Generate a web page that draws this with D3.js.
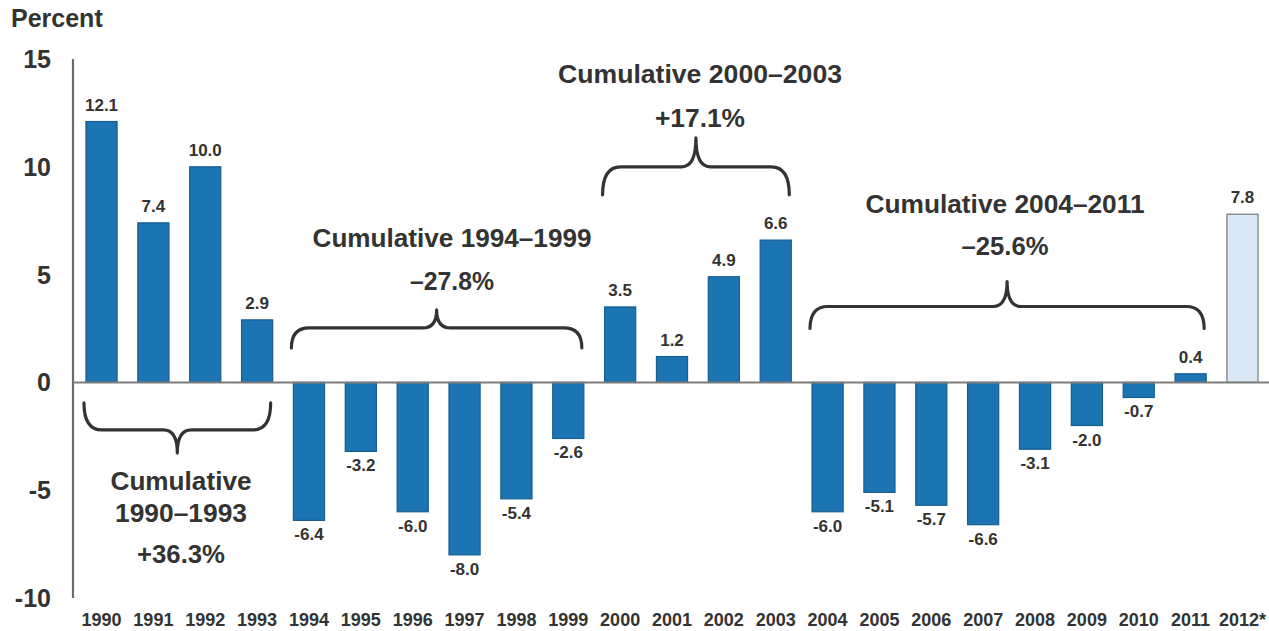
<!DOCTYPE html>
<html>
<head>
<meta charset="utf-8">
<script src="https://cdn.jsdelivr.net/npm/d3@7"></script>
<style>
  html, body { margin: 0; padding: 0; background: #fff; }
  svg { display: block; }
  text { font-family: "Liberation Sans", Arial, sans-serif; font-weight: bold; fill: #333; }
</style>
</head>
<body>
<script>
// ---- data ----
const years = ["1990","1991","1992","1993","1994","1995","1996","1997","1998","1999",
               "2000","2001","2002","2003","2004","2005","2006","2007","2008","2009",
               "2010","2011","2012*"];
const values = [12.1, 7.4, 10.0, 2.9, -6.4, -3.2, -6.0, -8.0, -5.4, -2.6,
                3.5, 1.2, 4.9, 6.6, -6.0, -5.1, -5.7, -6.6, -3.1, -2.0,
                -0.7, 0.4, 7.8];
const estimateYears = ["2012*"];
const yTicks = [15, 10, 5, 0, -5, -10];
const yTickLabels = ["15", "10", "5", "0", "-5", "-10"];
const groupStart = ["1990", "1994", "2000", "2004"];
const groupEnd = ["1993", "1999", "2003", "2011"];
const groupLines = [
  ["Cumulative", "1990\u20131993", "+36.3%"],
  ["Cumulative 1994\u20131999", "\u201327.8%"],
  ["Cumulative 2000\u20132003", "+17.1%"],
  ["Cumulative 2004\u20132011", "\u201325.6%"]
];
const axisTitle = "Percent";

// ---- layout ----
const W = 1269, H = 631;
const svg = d3.select("body").append("svg").attr("width", W).attr("height", H);

const x = d3.scaleBand().domain(years).range([75.6, 1268.4]).paddingInner(0.4).paddingOuter(0.2);
const y = d3.scaleLinear().domain([-10, 15]).range([598, 59]);

// brace placement (annotation styling)
const braceStyle = [
  {dir: 1,  end: -0.95, flat: 27, tip: 50, tx: 181, lineY: [490, 522, 563], lens: [141, 132, 88]},
  {dir: -1, end: 1.6,  flat: 20, tip: 38, tx: 452, lineY: [247, 290], lens: [279, 84]},
  {dir: -1, end: 8.7,  flat: 28, tip: 57, tx: 700, lineY: [83, 127], lens: [284, 90]},
  {dir: -1, end: 2.5,  flat: 22, tip: 47, tx: 1005, lineY: [213, 255], lens: [279, 87]}
];

// y axis line
svg.append("line")
  .attr("x1", 73).attr("x2", 73)
  .attr("y1", y(15)).attr("y2", y(-10))
  .attr("stroke", "#6b6b6b").attr("stroke-width", 2.2);

// y tick labels
svg.selectAll(".ytick").data(yTicks).enter().append("text")
  .attr("x", 51).attr("y", d => y(d))
  .attr("dy", "0.36em")
  .attr("text-anchor", "end")
  .attr("font-size", 25)
  .text((d, i) => yTickLabels[i]);

// axis title
svg.append("text").attr("x", 11).attr("y", 27).attr("font-size", 25).text(axisTitle);

// bars
const data = years.map((yr, i) => ({yr, v: values[i], est: estimateYears.includes(yr)}));
svg.selectAll(".bar").data(data).enter().append("rect")
  .attr("x", d => x(d.yr))
  .attr("width", x.bandwidth())
  .attr("y", d => y(Math.max(0, d.v)))
  .attr("height", d => Math.abs(y(d.v) - y(0)))
  .attr("fill", d => d.est ? "#dbe9f7" : "#1c74b3")
  .attr("stroke", d => d.est ? "#6f7a84" : "#175d90")
  .attr("stroke-width", 1.2);

// zero line
svg.append("line")
  .attr("x1", 73).attr("x2", W)
  .attr("y1", y(0)).attr("y2", y(0))
  .attr("stroke", "#7d7d7d").attr("stroke-width", 2);

// value labels
svg.selectAll(".val").data(data).enter().append("text")
  .attr("x", d => x(d.yr) + x.bandwidth() / 2)
  .attr("y", d => d.v >= 0 ? y(d.v) - 11 : y(d.v) + 20)
  .attr("text-anchor", "middle")
  .attr("font-size", 17)
  .text(d => d.v.toFixed(1));

// x labels
svg.selectAll(".xl").data(years).enter().append("text")
  .attr("x", d => x(d) + x.bandwidth() / 2)
  .attr("y", 626)
  .attr("text-anchor", "middle")
  .attr("font-size", 18)
  .text(d => d);

// braces
function bracePath(x1, x2, yEnd, dir, flat, tip) {
  const xm = (x1 + x2) / 2;
  const yf = yEnd + dir * flat;
  const yt = yEnd + dir * tip;
  const r = 18, r2 = 14;
  return `M${x1},${yEnd} Q${x1},${yf} ${x1 + r},${yf} L${xm - r2},${yf} Q${xm},${yf} ${xm},${yt}` +
         ` Q${xm},${yf} ${xm + r2},${yf} L${x2 - r},${yf} Q${x2},${yf} ${x2},${yEnd}`;
}

groupStart.forEach((s, i) => {
  const st = braceStyle[i];
  const x1 = x(s) - 2;
  const x2 = x(groupEnd[i]) + x.bandwidth() - 2;
  svg.append("path")
    .attr("d", bracePath(x1, x2, y(st.end), st.dir, st.flat, st.tip))
    .attr("fill", "none").attr("stroke", "#333").attr("stroke-width", 3.2)
    .attr("stroke-linecap", "round").attr("stroke-linejoin", "round");
  groupLines[i].forEach((ln, j) => {
    svg.append("text")
      .attr("x", st.tx).attr("y", st.lineY[j])
      .attr("text-anchor", "middle")
      .attr("font-size", 26)
      .attr("textLength", st.lens[j])
      .attr("lengthAdjust", "spacingAndGlyphs")
      .text(ln);
  });
});
</script>
</body>
</html>
